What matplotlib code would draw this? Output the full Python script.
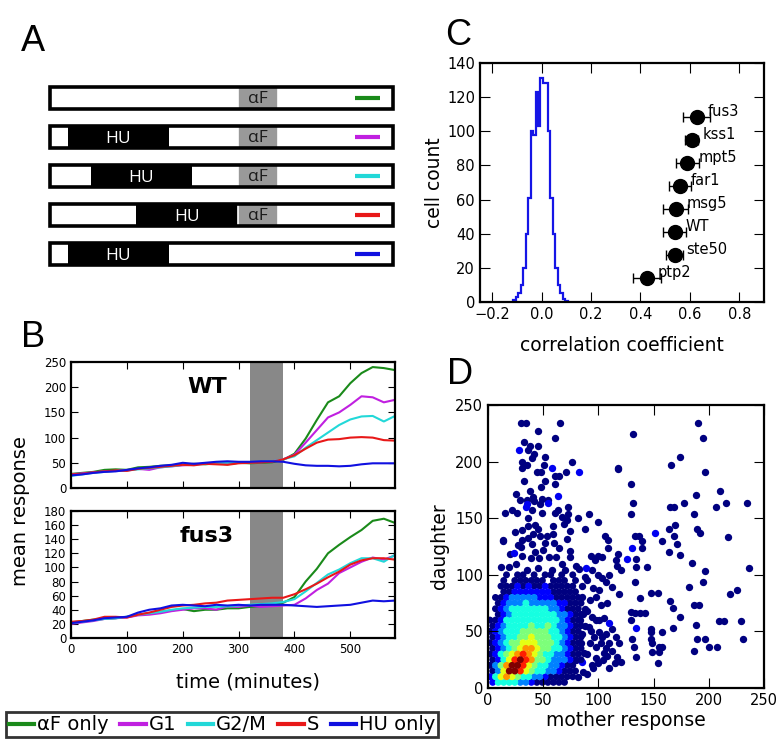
import numpy as np
import matplotlib
matplotlib.use('Agg')
import matplotlib.pyplot as plt
from matplotlib.patches import Rectangle
from matplotlib.lines import Line2D

plt.rcParams['font.family'] = 'DejaVu Sans'
plt.rcParams['xtick.direction'] = 'in'
plt.rcParams['ytick.direction'] = 'in'
plt.rcParams['xtick.top'] = True
plt.rcParams['ytick.right'] = True
plt.rcParams['xtick.major.size'] = 6
plt.rcParams['ytick.major.size'] = 6
plt.rcParams['axes.linewidth'] = 1.6

# ---- panel A: treatment schedule (minutes) ----
hu_start = [None, 30, 69, 145, 30]
hu_end = [None, 201, 240, 318, 201]
af_given = [True, True, True, True, False]
af_start, af_end = 318, 385

series_names = ['αF only', 'G1', 'G2/M', 'S', 'HU only']
series_colors = ['#1a8a1a', '#c020e0', '#22d8d8', '#e81818', '#1010e0']

# ---- panel B: mean response traces ----
times = [0, 20, 40, 60, 80, 100, 120, 140, 160, 180, 200, 220, 240, 260, 280,
         300, 320, 340, 360, 380, 400, 420, 440, 460, 480, 500, 520, 540, 560, 580]

wt_af = [28, 30, 32, 36, 37, 36, 41, 42, 44, 45, 46, 48, 47, 49, 47,
         50, 49, 50, 51, 56, 68, 98, 135, 170, 182, 208, 228, 240, 238, 234]
wt_g1 = [27, 29, 31, 33, 34, 35, 38, 36, 41, 43, 45, 46, 49, 50, 49,
         50, 51, 51, 53, 57, 66, 90, 115, 140, 150, 165, 182, 180, 170, 175]
wt_g2m = [24, 27, 30, 32, 34, 35, 37, 39, 41, 43, 46, 47, 48, 50, 50,
          51, 51, 52, 53, 57, 63, 80, 95, 110, 125, 136, 142, 143, 132, 143]
wt_s = [27, 28, 31, 33, 35, 34, 38, 40, 42, 44, 46, 45, 48, 47, 46,
        49, 50, 51, 52, 57, 65, 78, 90, 96, 97, 100, 101, 100, 95, 94]
wt_hu = [25, 27, 30, 32, 33, 36, 39, 41, 44, 46, 50, 48, 50, 52, 53,
         52, 52, 53, 53, 52, 48, 45, 44, 44, 43, 44, 47, 49, 49, 49]

fus3_af = [22, 24, 26, 27, 28, 30, 33, 35, 37, 39, 41, 38, 40, 40, 42,
           42, 44, 45, 47, 50, 58, 80, 98, 120, 132, 143, 153, 166, 169, 163]
fus3_g1 = [20, 22, 24, 27, 28, 29, 32, 33, 35, 38, 40, 42, 42, 40, 45,
           44, 46, 44, 45, 46, 47, 56, 68, 77, 92, 100, 108, 114, 111, 117]
fus3_g2m = [21, 23, 25, 27, 28, 30, 33, 35, 37, 40, 42, 43, 44, 44, 45,
            46, 47, 48, 49, 51, 55, 66, 78, 90, 97, 106, 113, 113, 108, 118]
fus3_s = [23, 24, 26, 30, 30, 29, 33, 36, 40, 44, 46, 47, 49, 50, 53,
          54, 55, 56, 57, 57, 62, 69, 77, 86, 94, 104, 110, 113, 113, 111]
fus3_hu = [21, 23, 25, 28, 29, 30, 36, 40, 42, 46, 47, 46, 45, 47, 46,
           47, 46, 47, 47, 47, 46, 45, 44, 45, 46, 47, 50, 53, 52, 53]

wt_series = [wt_af, wt_g1, wt_g2m, wt_s, wt_hu]
fus3_series = [fus3_af, fus3_g1, fus3_g2m, fus3_s, fus3_hu]

# ---- panel C: correlation histogram + strains ----
hist_edges = [-0.115, -0.105, -0.095, -0.085, -0.075, -0.065, -0.055, -0.045,
              -0.035, -0.025, -0.015, -0.005, 0.005, 0.015, 0.025, 0.035,
              0.045, 0.055, 0.065, 0.075, 0.085, 0.095, 0.105]
hist_counts = [1, 3, 5, 10, 20, 40, 61, 100, 98, 123, 103, 131, 128, 128,
               100, 61, 40, 20, 10, 5, 2, 0.5]

strains = ['fus3', 'kss1', 'mpt5', 'far1', 'msg5', 'WT', 'ste50', 'ptp2']
strain_corr = [0.628, 0.607, 0.59, 0.559, 0.542, 0.538, 0.538, 0.425]
strain_err = [0.055, 0.027, 0.047, 0.044, 0.049, 0.046, 0.036, 0.057]
strain_y = [108.5, 95, 81.5, 68, 54.5, 41, 27.5, 14]

# ---- panel D: mother vs daughter response ----
sparse_x = [29.9, 34.1, 64.9, 45.6, 61, 32.3, 38, 35.9, 45.6, 41.7, 40.2, 51.6, 76.4, 30.5,
            35.6, 30.5, 51, 118, 70.3, 64.3, 60.7, 44.1, 48, 51.6, 32.6, 60.7, 25, 38, 47.7,
            28.7, 35, 40.5, 41.7, 49.2, 54.6, 47.1, 72.2, 15.4, 21.4, 26, 40.2, 48.6, 60.7,
            63.1, 66.7, 71.3, 69.2, 72.2, 81.8, 91.5, 99.3, 36, 42.6, 36.5, 30.5, 45.6, 59.2,
            74.3, 87.9, 13.3, 24.5, 30.5, 36.5, 41, 47.1, 53.1, 59.2, 71.3, 106, 108.4,
            11.5, 19, 13.6, 25.7, 31.1, 38.6, 42.6, 46.2, 49.8, 55.3, 61.3, 67.3, 74, 74, 30,
            40, 52, 64, 20, 35, 45, 58, 70, 80, 27, 60,
            82.4, 94.5, 100, 93, 97, 103, 115.6, 117.1, 120.1, 109, 103.6, 106.6, 112.6,
            118.7, 100.5, 95, 90, 85, 102, 94.5, 97.5, 101, 105, 91.5, 100.5, 103.6, 109.6,
            106.6, 105, 97.5, 94.5, 87, 92, 96, 88, 92, 98, 108, 85, 90, 85, 110, 100, 88,
            82, 86, 90, 95, 100, 104, 108, 112, 84, 88, 93, 98, 102, 107, 112, 116, 110, 115,
            80, 83, 86, 90,
            131.6, 190.5, 194.7, 173.9, 165.5, 196.6, 117.8, 129.8, 210.2, 188.7, 131.3,
            177.5, 164.6, 168.5, 206.2, 215.9, 234.9, 129.8, 186.6, 169.4, 189.6, 191.7,
            163.9, 217.8, 133.2, 136.8, 168.5, 157.9, 139.8, 139.2, 171.5, 173.7, 163.9,
            185.1, 196.6, 236.4, 133.8, 133.8, 144.4, 118.1, 133.2, 194.7, 182, 147.3, 154.3,
            219.3, 225.3, 137.4, 165.2, 167.9, 173.7, 186.6, 191.1, 129.8, 133.2, 137.4,
            141.9, 129.2, 209.3, 213.8, 228.8, 188.7, 167.9, 147.3, 148, 157.9, 130.7, 148,
            189, 196.6, 230.9, 148.9, 155, 158, 148.9, 155, 200.2, 207.7, 186.6, 132.2,
            118.7, 133.8, 154.3, 117.1, 120.1]
sparse_y = [234, 234, 234, 227, 221, 217, 214, 210, 214, 207, 203, 204, 200, 200,
            197, 194, 197, 194, 190.5, 187.6, 187, 190.5, 190.5, 183, 183, 180.5, 171, 174,
            177.6, 166, 166, 169, 165, 167, 166, 163, 160, 154.6, 157.5, 154.6, 157, 154.6,
            155, 157.5, 151, 148.7, 145, 154, 150, 154, 146.6, 150, 144, 143, 140, 140.5,
            143, 139, 140.5, 130.4, 137.5, 131, 132.5, 136, 134, 134, 136, 131.6, 134,
            130.4, 106.6, 106.6, 130, 110, 116.6, 114.5, 120.4, 114.5, 122, 116, 116, 110,
            121.3, 116, 125, 127, 128, 124, 118, 104, 106, 104, 104, 108, 126, 128,
            104.8, 104.2, 116.6, 116.6, 113, 116, 113, 107.8, 104.2, 123.4, 96.9, 94, 89.5,
            83, 86.6, 88, 95, 90, 73.3, 63, 60, 60, 62, 54.2, 49.8, 45.3, 39.5, 35, 30.6,
            26.2, 20.3, 31.2, 40, 45, 70, 78, 80, 75, 80, 30, 48, 100, 100, 98,
            10, 14, 12, 18, 22, 25, 28, 33, 40, 55, 50, 36, 40, 48, 52, 45, 18, 22,
            25, 60, 65, 68,
            224, 234.4, 220.6, 204.4, 197, 190.5, 193.5, 180.2, 174, 170.2, 163.7, 163.7,
            160.2, 160.2, 160.2, 163.7, 163.7, 153.4, 153.4, 144, 140.2, 136.6, 140.2,
            133.7, 134.3, 134.3, 134.3, 130.2, 130.2, 123.4, 127.2, 117.5, 119.8, 110.1,
            103.4, 106.3, 113.7, 106.6, 106.6, 118.1, 93.3, 93.3, 89.5, 83.6, 83.6, 82.7,
            86.6, 79.8, 77.2, 70.4, 63, 73.3, 73.3, 67.4, 66.5, 66.5, 66.5, 60.1, 59.5,
            59.5, 59.5, 55.7, 52.7, 49.8, 51.8, 49.8, 43, 43, 43, 43, 43, 39.5, 36.5,
            36.5, 32.1, 32.1, 35.9, 35.9, 33, 35.9, 39.5, 27.1, 22.4, 27.1, 23.3]
light_x = [151, 130.7, 126.2, 133.8, 28.4, 57.7, 82.4, 63.1, 35.6, 34.1, 54.6, 88.5,
           109.6, 85.4, 23.6]
light_y = [136.6, 123.4, 113.7, 53.3, 210.5, 194.3, 190.5, 169.9, 162.8, 159.9, 163.4,
           105.7, 57.1, 23.3, 119.6]

# dense core: density level (0 = empty, 1 = sparse ... 9 = densest)
core_x = [3, 8, 13, 18, 23, 28, 33, 38, 43, 48, 53, 58, 63, 68, 73, 78, 83]
core_y = [100, 95, 90, 85, 80, 75, 70, 65, 60, 55, 50, 45, 40, 35, 30, 25, 20, 15, 10, 5]
core_levels = [
    '00010110101101010',
    '00101111110111010',
    '00111212112111110',
    '00112222222111110',
    '01123333322211111',
    '01233343333322111',
    '01234444444332111',
    '01234444444433211',
    '11244444444443211',
    '12344445445433211',
    '12344455555443211',
    '12344556555443211',
    '12345566655543211',
    '12345677655443211',
    '12456787654433211',
    '12468987554333211',
    '13579986544332110',
    '13699865443321110',
    '24676544332111110',
    '24444332111111000',
]

# ================= figure =================
fig = plt.figure(figsize=(7.83, 7.48), dpi=100)

# ---- A ----
ax_a = fig.add_axes([0.0639, 0.6344, 0.4381, 0.2607])
ax_a.set_xlim(0, 580)
ax_a.set_ylim(5.5, 0.5)
ax_a.axis('off')
for i in range(5):
    r = i + 1
    ax_a.add_patch(Rectangle((0, r - 0.28), 580, 0.56, fc='white', ec='none'))
    if hu_start[i] is not None:
        ax_a.add_patch(Rectangle((hu_start[i], r - 0.28), hu_end[i] - hu_start[i], 0.56,
                                 fc='black', ec='none'))
        ax_a.text((hu_start[i] + hu_end[i]) / 2, r + 0.06, 'HU', color='white',
                  fontsize=12.5, ha='center', va='center', family='Open Sans')
    if af_given[i]:
        ax_a.add_patch(Rectangle((af_start, r - 0.28), af_end - af_start, 0.56,
                                 fc='#999999', ec='white', lw=1.2))
        ax_a.text((af_start + af_end) / 2, r + 0.02, 'αF', color='#1a1a1a',
                  fontsize=12.5, ha='center', va='center', family='Open Sans')
    ax_a.add_patch(Rectangle((0, r - 0.28), 580, 0.56, fc='none', ec='black', lw=2.6,
                             clip_on=False))
    ax_a.plot([516, 558], [r, r], color=series_colors[i], lw=3, solid_capstyle='butt')

# ---- B ----
ax_b1 = fig.add_axes([0.0907, 0.3476, 0.4138, 0.1684])
ax_b2 = fig.add_axes([0.0907, 0.1471, 0.4138, 0.1698])
for ax, data, name, ymax, yt in [(ax_b1, wt_series, 'WT', 250, np.arange(0, 251, 50)),
                                 (ax_b2, fus3_series, 'fus3', 180, np.arange(0, 181, 20))]:
    ax.axvspan(320, 380, color='#888888', lw=0, zorder=0)
    for vals, col in zip(data, series_colors):
        ax.plot(times, vals, color=col, lw=1.5)
    ax.set_xlim(0, 580)
    ax.set_ylim(0, ymax)
    ax.set_yticks(yt)
    ax.set_xticks([0, 100, 200, 300, 400, 500])
    ax.tick_params(labelsize=8.5, length=5)
    ax.text(0.42, 0.80, name, transform=ax.transAxes, fontsize=16, fontweight='bold',
            ha='center', va='center')
ax_b1.set_xticklabels([])
fig.text(0.026, 0.317, 'mean response', rotation=90, fontsize=14, ha='center', va='center')
fig.text(0.317, 0.088, 'time (minutes)', fontsize=14, ha='center', va='center')

handles = [Line2D([], [], color=c, lw=3) for c in series_colors]
leg = fig.legend(handles, series_names, loc='center', bbox_to_anchor=(0.2835, 0.031),
                 ncol=5, fontsize=14, handlelength=1.3, handletextpad=0.15,
                 columnspacing=0.6, fancybox=False, edgecolor='black', borderpad=0.15,
                 borderaxespad=0)
leg.get_frame().set_linewidth(2)

# ---- C ----
ax_c = fig.add_axes([0.6130, 0.5963, 0.3627, 0.3195])
ax_c.stairs(hist_counts, hist_edges, color='#1515e6', lw=1.6, baseline=0)
ax_c.errorbar(strain_corr, strain_y, xerr=strain_err, fmt='o', color='black',
              ms=10, elinewidth=1, capsize=3.5)
for name, x, y, e in zip(strains, strain_corr, strain_y, strain_err):
    ax_c.text(x + 0.045, y + 3, name, fontsize=10.5, ha='left', va='center')
ax_c.set_xlim(-0.25, 0.9)
ax_c.set_ylim(0, 140)
ax_c.set_xticks([-0.2, 0.0, 0.2, 0.4, 0.6, 0.8])
ax_c.set_yticks(np.arange(0, 141, 20))
ax_c.tick_params(labelsize=10.5, length=7)
ax_c.set_xlabel('correlation coefficient', fontsize=13.5, labelpad=10)
ax_c.set_ylabel('cell count', fontsize=13.5, labelpad=2)

# ---- D ----
ax_d = fig.add_axes([0.6232, 0.0802, 0.3525, 0.3783])
cmap = plt.get_cmap('jet')
ax_d.scatter(sparse_x, sparse_y, color=cmap(0.0), s=28, lw=0)
ax_d.scatter(light_x, light_y, color=cmap(0.1), s=28, lw=0)
cx, cy, lv = [], [], []
for k, (yv, row) in enumerate(zip(core_y, core_levels)):
    shift = 2.5 * (k % 2)   # staggered rows
    for xv, ch in zip(core_x, row):
        if ch != '0':
            cx.append(xv + shift - 1.2)
            cy.append(yv)
            lv.append(int(ch))
cx, cy, lv = np.array(cx), np.array(cy), np.array(lv)
order = np.argsort(lv, kind='stable')
ax_d.scatter(cx[order], cy[order], c=lv[order], cmap='jet', vmin=1, vmax=9, s=25, lw=0)
ax_d.set_xlim(0, 250)
ax_d.set_ylim(0, 250)
ax_d.set_xticks(np.arange(0, 251, 50))
ax_d.set_yticks(np.arange(0, 251, 50))
ax_d.tick_params(labelsize=10.5, length=7)
ax_d.set_xlabel('mother response', fontsize=13.5, labelpad=2)
ax_d.set_ylabel('daughter', fontsize=13.5, labelpad=4)

# panel letters
for lab, x, y in [('A', 0.042, 0.944), ('B', 0.042, 0.549), ('C', 0.585, 0.953),
                  ('D', 0.587, 0.500)]:
    fig.text(x, y, lab, fontsize=26, ha='center', va='center', family='Liberation Sans')

fig.savefig('out.png', dpi=100)
